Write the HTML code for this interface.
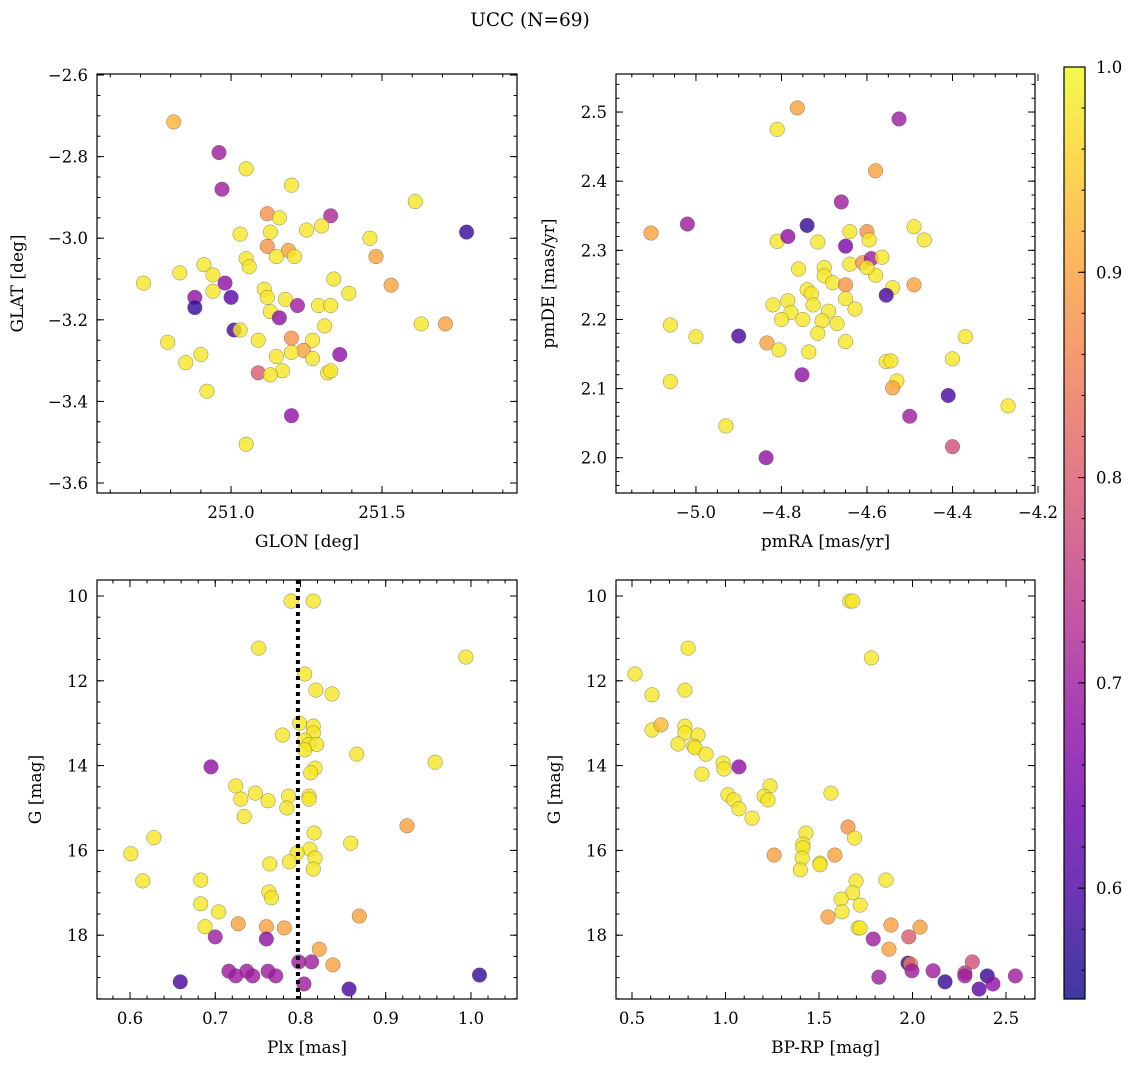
<!DOCTYPE html>
<html><head><meta charset="utf-8"><style>
body{margin:0;background:#fff;}
svg{display:block;font-family:"DejaVu Serif","Liberation Serif",serif;}
</style></head><body>
<svg id="fig" width="1136" height="1067" viewBox="0 0 1136 1067" xmlns="http://www.w3.org/2000/svg">
<text x="530" y="26" font-size="18.5" text-anchor="middle">UCC (N=69)</text>
</svg>
<script>
// ---- Panel 1: GLON vs GLAT ----
const p1Glon=[250.81,250.96,251.05,250.97,251.20,251.61,251.12,251.16,251.33,251.30,251.25,251.78,251.03,251.13,251.46,251.12,251.19,251.21,251.05,251.15,251.48,250.91,251.06,250.71,250.83,250.94,250.98,251.34,251.53,250.94,251.11,251.39,250.88,251.00,251.12,251.18,251.22,251.29,251.33,250.88,251.13,251.16,251.63,251.71,251.31,251.01,251.03,251.09,251.27,251.20,250.79,251.24,251.20,251.36,250.90,251.15,251.27,250.85,251.17,251.09,251.13,251.32,251.33,250.92,251.20,251.05];
const p1Glat=[-2.715,-2.79,-2.83,-2.88,-2.87,-2.91,-2.94,-2.95,-2.945,-2.97,-2.98,-2.985,-2.99,-2.985,-3.0,-3.02,-3.03,-3.045,-3.05,-3.045,-3.045,-3.065,-3.07,-3.11,-3.085,-3.09,-3.11,-3.10,-3.115,-3.13,-3.125,-3.135,-3.145,-3.145,-3.145,-3.15,-3.165,-3.165,-3.165,-3.17,-3.18,-3.195,-3.21,-3.21,-3.215,-3.225,-3.225,-3.25,-3.25,-3.245,-3.255,-3.275,-3.28,-3.285,-3.285,-3.29,-3.295,-3.305,-3.325,-3.33,-3.335,-3.33,-3.325,-3.375,-3.435,-3.505];
const p1Prob=[.92,.70,.98,.70,.98,.98,.88,.98,.72,.98,.98,.58,.98,.98,.98,.88,.90,.98,.98,.98,.90,.98,.98,.98,.98,.98,.68,.98,.90,.98,.98,.98,.68,.62,.98,.98,.70,.98,.98,.58,.98,.68,.98,.90,.98,.60,.98,.98,.98,.88,.98,.90,.98,.68,.98,.98,.98,.98,.98,.80,.98,.98,.98,.98,.68,.98];
const p1XTicks=[251.0,251.5];
const p1YTicks=[-2.6,-2.8,-3.0,-3.2,-3.4,-3.6];
// ---- Panel 2: pmRA vs pmDE ----
const p2Pmra=[-4.763,-4.81,-4.525,-4.58,-4.66,-5.105,-5.02,-4.74,-4.81,-4.785,-4.49,-4.466,-4.60,-4.64,-4.595,-4.715,-4.65,-4.64,-4.61,-4.59,-4.58,-4.565,-4.60,-4.76,-4.70,-4.70,-4.68,-4.65,-4.49,-4.54,-4.74,-4.73,-4.785,-4.65,-4.82,-4.726,-4.69,-4.628,-4.778,-4.555,-4.80,-4.705,-4.67,-4.75,-5.06,-4.715,-4.65,-5.0,-4.90,-4.834,-4.806,-4.736,-4.37,-4.40,-4.555,-4.544,-4.752,-5.06,-4.53,-4.54,-4.41,-4.27,-4.50,-4.93,-4.836,-4.40];
const p2Pmde=[2.506,2.475,2.49,2.415,2.37,2.325,2.338,2.336,2.313,2.32,2.334,2.315,2.327,2.327,2.315,2.312,2.306,2.28,2.282,2.288,2.264,2.29,2.275,2.273,2.275,2.263,2.253,2.25,2.25,2.246,2.243,2.237,2.227,2.23,2.221,2.221,2.212,2.215,2.21,2.235,2.2,2.198,2.194,2.2,2.192,2.18,2.168,2.175,2.176,2.166,2.156,2.153,2.175,2.143,2.139,2.14,2.12,2.11,2.111,2.101,2.09,2.075,2.06,2.046,2.0,2.016];
const p2Prob=[.90,.98,.70,.90,.70,.90,.70,.58,.98,.68,.98,.98,.88,.98,.98,.98,.65,.98,.88,.70,.98,.98,.98,.98,.98,.98,.98,.88,.90,.98,.98,.98,.98,.98,.98,.98,.98,.98,.98,.60,.98,.98,.98,.98,.98,.98,.98,.98,.60,.90,.98,.98,.98,.98,.98,.98,.68,.98,.98,.90,.60,.98,.70,.98,.68,.78];
const p2XTicks=[-5.0,-4.8,-4.6,-4.4,-4.2];
const p2YTicks=[2.0,2.1,2.2,2.3,2.4,2.5];
// ---- Panel 3: Plx vs G ----
const p3Plx=[0.789,0.815,0.751,0.994,0.805,0.818,0.837,0.799,0.815,0.815,0.779,0.805,0.81,0.819,0.805,0.866,0.695,0.958,0.817,0.812,0.724,0.747,0.73,0.786,0.81,0.81,0.762,0.784,0.734,0.925,0.816,0.628,0.859,0.811,0.601,0.796,0.817,0.787,0.764,0.815,0.615,0.683,0.763,0.766,0.683,0.704,0.869,0.688,0.727,0.76,0.781,0.70,0.76,0.822,0.798,0.813,0.838,0.716,0.737,0.762,0.724,0.744,0.771,0.804,0.659,0.857,1.01];
const p3G=[10.12,10.12,11.23,11.44,11.84,12.22,12.31,13.0,13.07,13.23,13.28,13.4,13.5,13.5,13.63,13.73,14.03,13.92,14.06,14.17,14.48,14.65,14.79,14.72,14.72,14.79,14.83,15.0,15.2,15.42,15.59,15.7,15.83,15.97,16.08,16.06,16.18,16.27,16.32,16.44,16.72,16.7,16.98,17.12,17.26,17.45,17.55,17.8,17.73,17.8,17.83,18.04,18.09,18.33,18.63,18.63,18.7,18.85,18.85,18.85,18.96,18.96,18.96,19.15,19.1,19.27,18.94];
const p3Prob=[.98,.98,.98,.98,.98,.98,.98,.98,.98,.98,.98,.98,.98,.98,.98,.98,.68,.98,.98,.98,.98,.98,.98,.98,.98,.98,.98,.98,.98,.90,.98,.98,.98,.98,.98,.98,.98,.98,.98,.98,.98,.98,.98,.98,.98,.98,.90,.98,.90,.90,.90,.70,.68,.90,.70,.70,.90,.70,.70,.70,.70,.70,.70,.70,.60,.60,.58];
const p3PlxMean=0.797;
const p3XTicks=[0.6,0.7,0.8,0.9,1.0];
const gTicks=[10,12,14,16,18];
// ---- Panel 4: BP-RP vs G ----
const p4Bprp=[1.665,1.68,0.80,1.78,0.516,0.607,0.783,0.607,0.655,0.783,0.783,0.853,0.746,0.83,0.837,0.896,0.987,0.992,1.072,0.874,1.013,1.045,1.072,1.142,1.238,1.206,1.227,1.564,1.26,1.43,1.414,1.414,1.41,1.40,1.505,1.505,1.655,1.69,1.585,1.698,1.858,1.68,1.618,1.72,1.623,1.548,1.71,1.72,1.885,2.04,1.79,1.98,1.874,1.976,1.99,1.997,2.11,1.82,2.174,2.32,2.28,2.28,2.40,2.356,2.43,2.55];
const p4G=[10.12,10.12,11.23,11.46,11.84,12.33,12.22,13.16,13.04,13.07,13.23,13.28,13.49,13.54,13.58,13.73,13.94,14.08,14.03,14.2,14.69,14.81,15.02,15.24,14.48,14.72,14.81,14.65,16.11,15.59,15.85,15.94,16.18,16.46,16.30,16.34,15.45,15.71,16.11,16.72,16.70,17.0,17.15,17.29,17.45,17.57,17.83,17.83,17.76,17.81,18.09,18.04,18.33,18.66,18.68,18.84,18.84,18.99,19.1,18.63,18.89,18.96,18.96,19.27,19.15,18.96];
const p4Prob=[.98,.98,.98,.98,.98,.98,.98,.98,.93,.98,.98,.98,.98,.98,.98,.98,.98,.98,.68,.98,.98,.98,.98,.98,.98,.98,.98,.98,.90,.98,.98,.98,.98,.98,.98,.98,.88,.98,.90,.98,.98,.98,.98,.98,.98,.90,.98,.98,.90,.90,.70,.80,.90,.58,.85,.70,.70,.70,.58,.78,.75,.70,.58,.62,.68,.70];
const p4XTicks=[0.5,1.0,1.5,2.0,2.5];
// ---- Colorbar ----
const cbTicks=[0.6,0.7,0.8,0.9,1.0];
const cbMin=0.546, cbMax=1.0;

const NS="http://www.w3.org/2000/svg";
const svg=document.getElementById('fig');
const plasma=[[13,8,135],[65,4,157],[106,0,168],[143,13,164],[177,42,144],[204,71,120],[225,100,98],[242,132,75],[252,166,54],[252,206,37],[240,249,33]];
function cmap(v){let t=(v-cbMin)/(cbMax-cbMin);t=Math.max(0,Math.min(1,t))*10;const i=Math.min(9,Math.floor(t)),f=t-i;const a=plasma[i],b=plasma[i+1];return 'rgb('+[0,1,2].map(k=>Math.round(a[k]+(b[k]-a[k])*f)).join(',')+')';}
function mk(tag,attrs,parent){const e=document.createElementNS(NS,tag);for(const k in attrs)e.setAttribute(k,attrs[k]);(parent||svg).appendChild(e);return e;}
function fmt(v,d){return v.toFixed(d).replace('-','\u2212');}
const TF=16.5, LF=17;

function panel(o){
  const g=mk('g',{});
  
  
  const sx=v=>o.x+(v-o.xd[0])/(o.xd[1]-o.xd[0])*o.w;
  const sy=v=>o.y+(o.yd[1]-v)/(o.yd[1]-o.yd[0])*o.h;
  const syy=o.yinv?(v=>o.y+(v-o.yd[0])/(o.yd[1]-o.yd[0])*o.h):sy;
  const clip=mk('clipPath',{id:'c'+o.name},g);
  mk('rect',{x:o.x,y:o.y,width:o.w,height:o.h},clip);
  const pts=mk('g',{'clip-path':'url(#c'+o.name+')'},g);
  
  
  for(let i=0;i<o.xs.length;i++){
    const c=mk('circle',{cx:sx(o.xs[i]),cy:syy(o.ys[i]),r:7.3,fill:cmap(o.ps[i]),'fill-opacity':0.8,stroke:'#555','stroke-width':0.5,'stroke-opacity':0.7},pts);
    
    
  }
  if(o.vline!==undefined){
    const l=mk('line',{x1:sx(o.vline),x2:sx(o.vline),y1:o.y,y2:o.y+o.h,stroke:'#000','stroke-width':4,'stroke-dasharray':'4 4'},g);
    
    
  }
  const fr=mk('rect',{x:o.x,y:o.y,width:o.w,height:o.h,fill:'none',stroke:'#000','stroke-width':1.2},g);
  
  
  const tk=(x1,y1,x2,y2)=>mk('line',{x1,y1,x2,y2,stroke:'#000','stroke-width':1},g);
  for(let v=Math.ceil(o.xd[0]/o.xm-1e-6)*o.xm;v<=o.xd[1];v+=o.xm){const X=sx(v);tk(X,o.y+o.h,X,o.y+o.h-3.5);tk(X,o.y,X,o.y+3.5);}
  const ylo=Math.min(o.yd[0],o.yd[1]);
  for(let v=Math.ceil(ylo/o.ym-1e-6)*o.ym;v<=Math.max(o.yd[0],o.yd[1]);v+=o.ym){const Y=syy(v);tk(o.x,Y,o.x+3.5,Y);tk(o.x+o.w,Y,o.x+o.w-3.5,Y);}
  o.xt.forEach(v=>{const X=sx(v);tk(X,o.y+o.h,X,o.y+o.h-7);tk(X,o.y,X,o.y+7);
    const t=mk('text',{x:X,y:o.y+o.h+25,'font-size':TF,'text-anchor':'middle'},g);t.textContent=fmt(v,o.xdp);
    });
  o.yt.forEach(v=>{const Y=syy(v);tk(o.x,Y,o.x+7,Y);tk(o.x+o.w,Y,o.x+o.w-7,Y);
    const t=mk('text',{x:o.x-9,y:Y+6,'font-size':TF,'text-anchor':'end'},g);t.textContent=fmt(v,o.ydp);
    });
  const xl=mk('text',{x:o.x+o.w/2,y:o.y+o.h+54,'font-size':LF,'text-anchor':'middle'},g);xl.textContent=o.xlab;
  
  const yl=mk('text',{x:0,y:0,'font-size':LF,'text-anchor':'middle',transform:'translate('+(o.x+o.ylx)+','+(o.y+o.h/2)+') rotate(-90)'},g);yl.textContent=o.ylab;
  
}
panel({name:'glon-glat-panel',x:97,y:74,w:420,h:419,xd:[250.556,251.947],yd:[-3.6245,-2.5975],xs:p1Glon,ys:p1Glat,ps:p1Prob,xt:p1XTicks,yt:p1YTicks,xm:0.1,ym:0.05,xdp:1,ydp:1,xlab:'GLON [deg]',ylab:'GLAT [deg]',ylx:-74});
panel({name:'pm-panel',x:616,y:74,w:419,h:419,xd:[-5.187,-4.207],yd:[1.949,2.555],xs:p2Pmra,ys:p2Pmde,ps:p2Prob,xt:p2XTicks,yt:p2YTicks,xm:0.05,ym:0.02,xdp:1,ydp:1,xlab:'pmRA [mas/yr]',ylab:'pmDE [mas/yr]',ylx:-62});
panel({name:'plx-g-panel',x:97,y:580,w:420,h:419,xd:[0.5613,1.054],yd:[9.623,19.505],yinv:true,xs:p3Plx,ys:p3G,ps:p3Prob,xt:p3XTicks,yt:gTicks,xm:0.02,ym:0.5,xdp:1,ydp:0,xlab:'Plx [mas]',ylab:'G [mag]',ylx:-56,vline:p3PlxMean});
panel({name:'cmd-panel',x:616,y:580,w:419,h:419,xd:[0.4144,2.655],yd:[9.623,19.505],yinv:true,xs:p4Bprp,ys:p4G,ps:p4Prob,xt:p4XTicks,yt:gTicks,xm:0.1,ym:0.5,xdp:1,ydp:0,xlab:'BP-RP [mag]',ylab:'G [mag]',ylx:-56});

(function(){
  const x=1064,y=67,w=21,h=932;
  const g=mk('g',{});
  
  
  const defs=mk('defs',{},g);
  const lg=mk('linearGradient',{id:'cbg',x1:0,y1:1,x2:0,y2:0},defs);
  plasma.forEach((c,i)=>mk('stop',{offset:i/10,'stop-color':'rgb('+c.join(',')+')'},lg));
  mk('rect',{x,y,width:w,height:h,fill:'url(#cbg)','fill-opacity':0.8},g);
  mk('rect',{x,y,width:w,height:h,fill:'none',stroke:'#000','stroke-width':1.2},g);
  const sy=v=>y+(cbMax-v)/(cbMax-cbMin)*h;
  for(let v=0.56;v<1.0;v+=0.02){mk('line',{x1:x+w,x2:x+w-3.5,y1:sy(v),y2:sy(v),stroke:'#000','stroke-width':1},g);}
  cbTicks.forEach(v=>{const Y=sy(v);mk('line',{x1:x+w,x2:x+w-7,y1:Y,y2:Y,stroke:'#000','stroke-width':1},g);
    const t=mk('text',{x:x+w+11,y:Y+6,'font-size':TF},g);t.textContent=v.toFixed(1);
    });
})();
</script>
</body></html>
